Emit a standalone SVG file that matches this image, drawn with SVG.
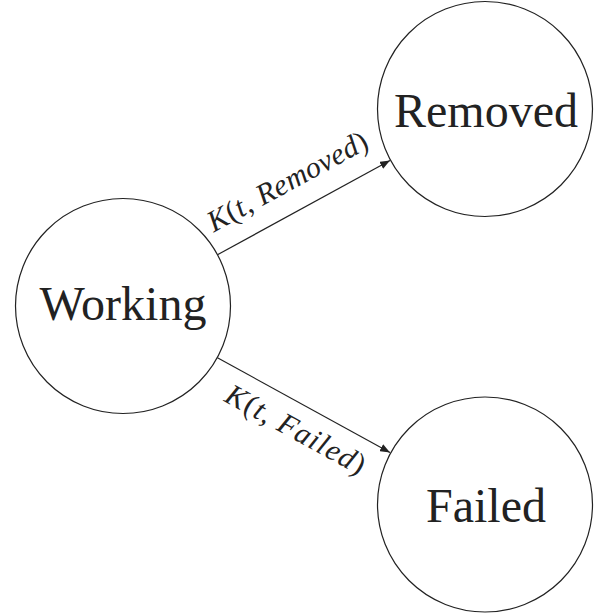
<svg xmlns="http://www.w3.org/2000/svg" width="600" height="615" viewBox="0 0 600 615">
<style>
.node{fill:#fff;stroke:#222;stroke-width:1.2}
.nt{font-family:"Liberation Serif","DejaVu Serif",serif;font-size:48px;fill:#222;text-anchor:middle}
.edge{stroke:#222;stroke-width:1.2;fill:none}
.lbl{font-family:"Liberation Serif","DejaVu Serif",serif;font-size:30px;font-style:italic;fill:#222;text-anchor:middle}
.up{font-style:normal}
</style>
<defs>
<marker id="arr" viewBox="0 0 10 8" refX="10" refY="4" markerWidth="10" markerHeight="8" markerUnits="userSpaceOnUse" orient="auto">
<path d="M0,0 L10,4 L0,8 Z" fill="#222"/>
</marker>
</defs>
<g id="connectors">
<line class="edge" x1="217" y1="255" x2="390" y2="160.5" marker-end="url(#arr)"/>
<line class="edge" x1="217" y1="357.5" x2="390" y2="452.5" marker-end="url(#arr)"/>
<text class="lbl" transform="translate(292,190) rotate(-28.55)" x="0" y="0" textLength="178" lengthAdjust="spacing">K<tspan class="up">(</tspan>t, Removed<tspan class="up">)</tspan></text>
<text class="lbl" transform="translate(291,438) rotate(28.7)" x="0" y="0" textLength="155" lengthAdjust="spacing">K<tspan class="up">(</tspan>t, Failed<tspan class="up">)</tspan></text>
</g>
<g id="working">
<circle class="node" cx="123" cy="306" r="107.5"/>
<text class="nt" x="123" y="320">Working</text>
</g>
<g id="removed">
<circle class="node" cx="485" cy="109" r="107.5"/>
<text class="nt" x="486" y="127">Removed</text>
</g>
<g id="failed">
<circle class="node" cx="485" cy="504.5" r="107.5"/>
<text class="nt" x="486" y="522">Failed</text>
</g>
</svg>
